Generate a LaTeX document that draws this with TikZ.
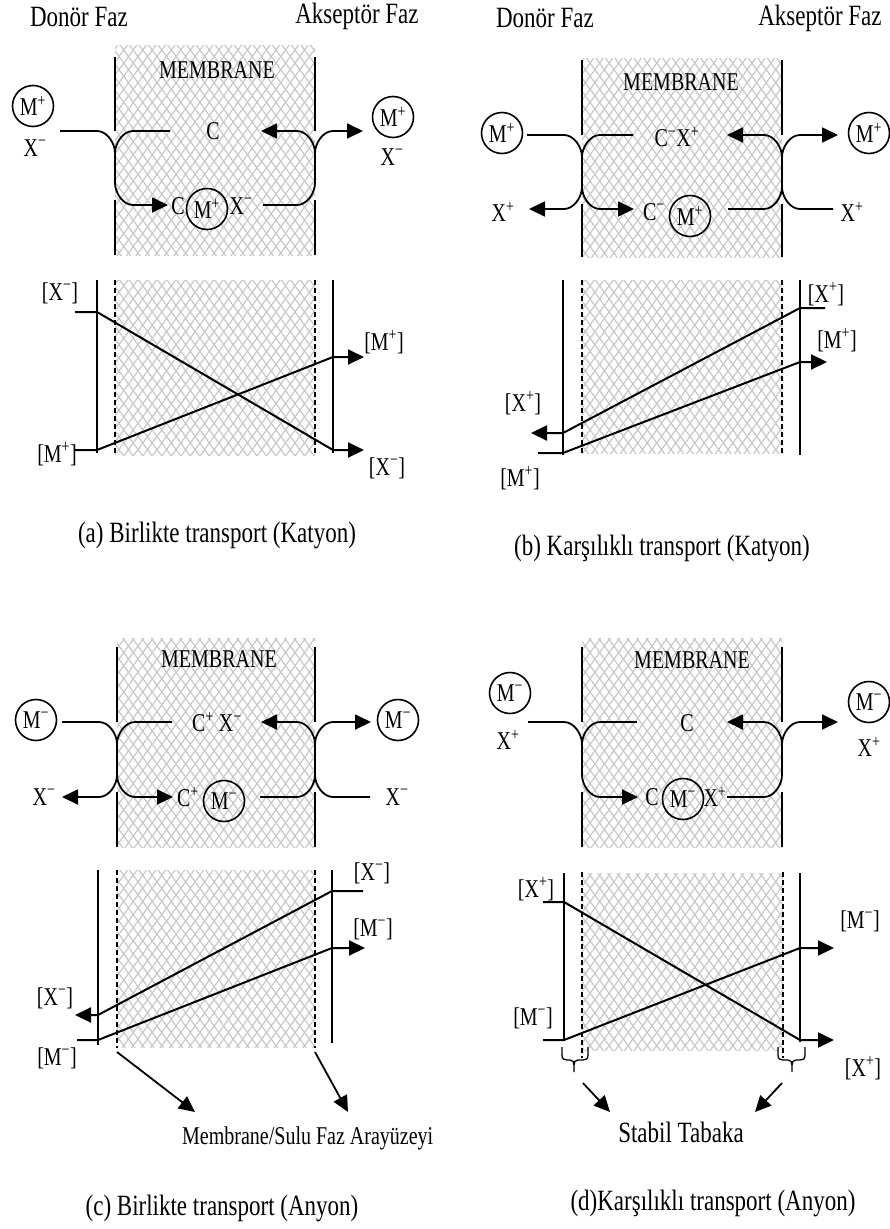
\documentclass[tikz,border=0pt]{standalone}
\usepackage{fontspec}
\setmainfont{Liberation Serif}
\usetikzlibrary{arrows.meta,patterns.meta}
\newcommand{\tall}[1]{\scalebox{1}[1.28]{#1}}
\newcommand{\supP}{\textsuperscript{+}}
\newcommand{\supM}{\textsuperscript{−}}
% branch from crossing point on wall (#1,#2) to row #3, side #4 (+/-), end x #5, style #6
\newcommand{\br}[6]{\draw[#6] (#1,#2) .. controls (#1,{#2+(#3-(#2))*0.45}) and ({#1#4 8},#3) .. ({#1#4 18},#3) -- (#5,#3);}
\newcommand{\wallcross}[3]{\draw[conn] (#1,{#2+22}) -- (#1,{#3-22});}
% under-brace: left x #1, right x #2, tip x #3, top y #4
\newcommand{\ubrace}[4]{\draw[bracestyle] (#1,#4) -- (#1,{#4+8}) .. controls (#1,{#4+12}) and ({#1+2},{#4+13}) .. ({#1+5},{#4+13}) -- ({#3-4},{#4+13}) .. controls ({#3-1},{#4+13}) and (#3,{#4+15}) .. (#3,{#4+18}) -- (#3,{#4+25});
\draw[bracestyle] (#2,#4) -- (#2,{#4+8}) .. controls (#2,{#4+12}) and ({#2-2},{#4+13}) .. ({#2-5},{#4+13}) -- ({#3+4},{#4+13}) .. controls ({#3+1},{#4+13}) and (#3,{#4+15}) .. (#3,{#4+18});}
\tikzset{
  conn/.style={line width=1.8pt,line join=round},
  arr/.style={-{Triangle[length=16pt,width=15pt]}},
  gline/.style={line width=2pt,line join=round},
  wallline/.style={line width=1.1pt},
  dashline/.style={line width=1.1pt,dash pattern=on 5pt off 3pt},
  hatchA/.style={pattern={Lines[angle=54,distance=7.7pt,line width=1.2pt]},pattern color=black!22},
  hatchB/.style={pattern={Lines[angle=-54,distance=7.7pt,line width=1.2pt]},pattern color=black!22},
  lab/.style={inner sep=0pt,font=\fontsize{20}{24}\selectfont},
  big/.style={inner sep=0pt,font=\fontsize{23}{27}\selectfont},
  circ/.style={circle,draw,line width=1.6pt,minimum size=41pt,inner sep=0pt,font=\fontsize{20}{24}\selectfont},
  bracestyle/.style={line width=1.3pt,line join=round}
}
\begin{document}
\begin{tikzpicture}[x=1pt,y=-1pt]
\useasboundingbox (0,0) rectangle (890,1229);

% ================= (a) =================
\path[hatchA] (115,45) rectangle (315,255);
\path[hatchB] (115,45) rectangle (315,255);
\draw[wallline] (115,57) -- (115,131); \draw[wallline] (115,200) -- (115,255);
\draw[wallline] (315,57) -- (315,131); \draw[wallline] (315,200) -- (315,255);
\node[big] (aDon) at (79,17) {\tall{Donör Faz}};
\node[big] (aAkc) at (357,16) {\tall{Akseptör Faz}};
\node[lab] (aMem) at (217,70) {\tall{MEMBRANE}};
\node[circ] (aM1) at (33,106) {\tall{M\supP}};
\node[lab] (aX1) at (35,148) {\tall{X\supM}};
\node[lab] (aC) at (213,131) {\tall{C}};
\node[lab] (aC2) at (178,206) {\tall{C}};
\node[circ] (aM2) at (207,209) {\tall{M\supP}};
\node[lab] (aX2) at (241,206) {\tall{X\supM}};
\node[circ] (aM3) at (393,117) {\tall{M\supP}};
\node[lab] (aX3) at (392,157) {\tall{X\supM}};
\wallcross{115}{131}{205}
\br{115}{153}{131}{-}{60}{conn}
\br{115}{153}{131}{+}{170}{conn}
\br{115}{183}{205}{+}{168}{conn,arr}
\wallcross{315}{131}{205}
\br{315}{153}{131}{-}{261}{conn,arr}
\br{315}{153}{131}{+}{363}{conn,arr}
\br{315}{183}{205}{-}{263}{conn}
% graph a
\path[hatchA] (115,280) rectangle (315,455);
\path[hatchB] (115,280) rectangle (315,455);
\draw[dashline] (115,280) -- (115,455); \draw[dashline] (315,280) -- (315,455);
\draw[wallline] (97,280) -- (97,453); \draw[wallline] (333,280) -- (333,453);
\draw[gline,arr] (75,312) -- (97,312) -- (333,450) -- (364,450);
\draw[gline,arr] (75,450) -- (97,450) -- (333,357) -- (364,357);
\node[lab] (agX1) at (60,293) {\tall{[X\supM]}};
\node[lab] (agM1) at (57,454) {\tall{[M\supP]}};
\node[lab] (agM2) at (384,342) {\tall{[M\supP]}};
\node[lab] (agX2) at (387,468) {\tall{[X\supM]}};
\node[big] (acap) at (217,535) {\tall{(a) Birlikte transport (Katyon)}};

% ================= (b) =================
\path[hatchA] (582,58) rectangle (782,257);
\path[hatchB] (582,58) rectangle (782,257);
\draw[wallline] (582,60) -- (582,135); \draw[wallline] (582,204) -- (582,257);
\draw[wallline] (782,60) -- (782,135); \draw[wallline] (782,204) -- (782,257);
\node[big] (bDon) at (545,18) {\tall{Donör Faz}};
\node[big] (bAkc) at (820,18) {\tall{Akseptör Faz}};
\node[lab] (bMem) at (681,82) {\tall{MEMBRANE}};
\node[circ] (bM1) at (502,133) {\tall{M\supP}};
\node[lab] (bX1) at (503,212) {\tall{X\supP}};
\node[lab] (bCX) at (677,137) {\tall{C\supM X\supP}};
\node[lab] (bC2) at (654,212) {\tall{C\supM}};
\node[circ] (bM2) at (690,216) {\tall{M\supP}};
\node[circ] (bM3) at (869,133) {\tall{M\supP}};
\node[lab] (bX3) at (852,212) {\tall{X\supP}};
\wallcross{582}{135}{209}
\br{582}{157}{135}{-}{527}{conn}
\br{582}{157}{135}{+}{633}{conn}
\br{582}{187}{209}{-}{529}{conn,arr}
\br{582}{187}{209}{+}{634}{conn,arr}
\wallcross{782}{135}{209}
\br{782}{157}{135}{-}{727}{conn,arr}
\br{782}{157}{135}{+}{838}{conn,arr}
\br{782}{187}{209}{-}{728}{conn}
\br{782}{187}{209}{+}{833}{conn}
% graph b
\path[hatchA] (582,280) rectangle (782,453);
\path[hatchB] (582,280) rectangle (782,453);
\draw[dashline] (582,280) -- (582,453); \draw[dashline] (782,280) -- (782,453);
\draw[wallline] (563,280) -- (563,455); \draw[wallline] (800,280) -- (800,455);
\draw[gline,arr] (825,308) -- (800,308) -- (563,433) -- (531,433);
\draw[gline,arr] (538,453) -- (563,453) -- (800,362) -- (827,362);
\node[lab] (bgX1) at (826,294) {\tall{[X\supP]}};
\node[lab] (bgX2) at (523,403) {\tall{[X\supP]}};
\node[lab] (bgM1) at (837,340) {\tall{[M\supP]}};
\node[lab] (bgM2) at (520,478) {\tall{[M\supP]}};
\node[big] (bcap) at (662,548) {\tall{(b) Karşılıklı transport (Katyon)}};

% ================= (c) =================
\path[hatchA] (117,638) rectangle (315,847);
\path[hatchB] (117,638) rectangle (315,847);
\draw[wallline] (117,647) -- (117,722); \draw[wallline] (117,792) -- (117,847);
\draw[wallline] (315,647) -- (315,722); \draw[wallline] (315,792) -- (315,847);
\node[lab] (cMem) at (219,659) {\tall{MEMBRANE}};
\node[circ] (cM1) at (36,720) {\tall{M\supM}};
\node[lab] (cX1) at (44,797) {\tall{X\supM}};
\node[lab] (cCX) at (217,722) {\tall{C\supP\ X\supM}};
\node[lab] (cC2) at (188,797) {\tall{C\supP}};
\node[circ] (cM2) at (224,801) {\tall{M\supM}};
\node[circ] (cM3) at (398,720) {\tall{M\supM}};
\node[lab] (cX3) at (397,797) {\tall{X\supM}};
\wallcross{117}{722}{797}
\br{117}{744}{722}{-}{62}{conn}
\br{117}{744}{722}{+}{172}{conn}
\br{117}{775}{797}{-}{62}{conn,arr}
\br{117}{775}{797}{+}{173}{conn,arr}
\wallcross{315}{722}{797}
\br{315}{744}{722}{-}{261}{conn,arr}
\br{315}{744}{722}{+}{371}{conn,arr}
\br{315}{775}{797}{-}{260}{conn}
\br{315}{775}{797}{+}{370}{conn}
% graph c
\path[hatchA] (117,870) rectangle (315,1047);
\path[hatchB] (117,870) rectangle (315,1047);
\draw[dashline] (117,870) -- (117,1048); \draw[dashline] (315,870) -- (315,1048);
\draw[wallline] (98,870) -- (98,1045); \draw[wallline] (332,870) -- (332,1043);
\draw[gline,arr] (363,891) -- (332,891) -- (98,1015) -- (75,1015);
\draw[gline,arr] (77,1040) -- (98,1040) -- (332,948) -- (365,948);
\node[lab] (cgX1) at (372,873) {\tall{[X\supM]}};
\node[lab] (cgM1) at (373,929) {\tall{[M\supM]}};
\node[lab] (cgX2) at (55,998) {\tall{[X\supM]}};
\node[lab] (cgM2) at (57,1058) {\tall{[M\supM]}};
\coordinate (cI1) at (117,1052);
\coordinate (cI2) at (315,1052);
\node[lab,anchor=west] (cInt) at (182,1138) {\tall{Membrane/Sulu Faz Arayüzeyi}};
\draw[conn,arr] (cI1) -- (195,1112);
\draw[conn,arr] (cI2) -- (348,1112);
\node[big] (ccap) at (222,1208) {\tall{(c) Birlikte transport (Anyon)}};

% ================= (d) =================
\path[hatchA] (582,638) rectangle (782,847);
\path[hatchB] (582,638) rectangle (782,847);
\draw[wallline] (582,647) -- (582,722); \draw[wallline] (582,792) -- (582,847);
\draw[wallline] (782,647) -- (782,722); \draw[wallline] (782,792) -- (782,847);
\node[lab] (dMem) at (692,660) {\tall{MEMBRANE}};
\node[circ] (dM1) at (510,693) {\tall{M\supM}};
\node[lab] (dX1) at (508,740) {\tall{X\supP}};
\node[lab] (dC) at (687,723) {\tall{C}};
\node[lab] (dC2) at (652,797) {\tall{C}};
\node[circ] (dM2) at (683,799) {\tall{M\supM}};
\node[lab] (dX2) at (715,797) {\tall{X\supP}};
\node[circ] (dM3) at (869,702) {\tall{M\supM}};
\node[lab] (dX3) at (869,747) {\tall{X\supP}};
\wallcross{582}{722}{797}
\br{582}{744}{722}{-}{528}{conn}
\br{582}{744}{722}{+}{637}{conn}
\br{582}{775}{797}{+}{638}{conn,arr}
\wallcross{782}{722}{797}
\br{782}{744}{722}{-}{727}{conn,arr}
\br{782}{744}{722}{+}{838}{conn,arr}
\br{782}{775}{797}{-}{727}{conn}
% graph d
\path[hatchA] (582,873) rectangle (783,1050);
\path[hatchB] (582,873) rectangle (783,1050);
\draw[dashline] (582,872) -- (582,1058); \draw[dashline] (783,872) -- (783,1058);
\draw[wallline] (564,873) -- (564,1040); \draw[wallline] (800,873) -- (800,1042);
\draw[gline,arr] (543,902) -- (564,902) -- (800,1040) -- (834,1040);
\draw[gline,arr] (543,1040) -- (564,1040) -- (800,948) -- (834,948);
\node[lab] (dgX1) at (536,889) {\tall{[X\supP]}};
\node[lab] (dgM1) at (533,1018) {\tall{[M\supM]}};
\node[lab] (dgM2) at (860,921) {\tall{[M\supM]}};
\node[lab] (dgX2) at (863,1068) {\tall{[X\supP]}};
\ubrace{562}{588}{574}{1047}
\ubrace{778}{805}{792}{1047}
\node[big] (dStab) at (681,1132) {\tall{Stabil Tabaka}};
\coordinate (dB1) at (583,1083);
\coordinate (dB2) at (782,1083);
\draw[conn,arr] (dB1) -- (610,1112);
\draw[conn,arr] (dB2) -- (755,1112);
\node[big] (dcap) at (713,1203) {\tall{(d)Karşılıklı transport (Anyon)}};
\end{tikzpicture}
\end{document}
